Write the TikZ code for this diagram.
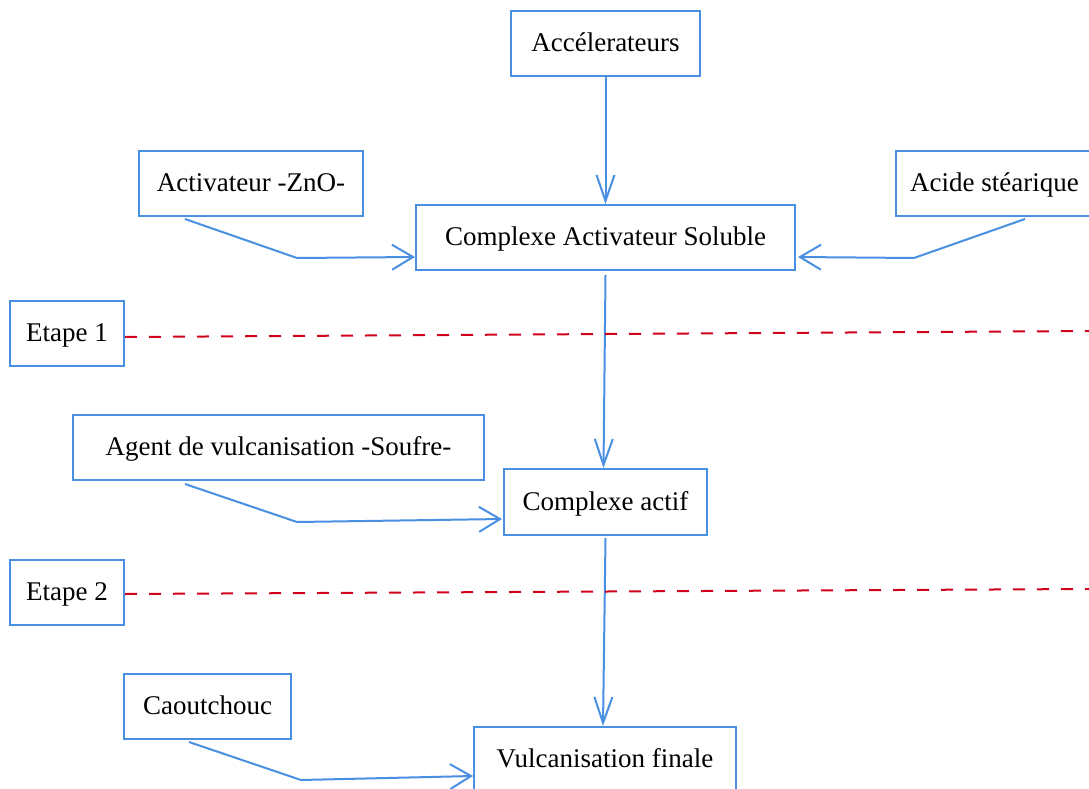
\documentclass[tikz,border=0pt]{standalone}
\usepackage{fontspec}
\setmainfont{Liberation Serif}
\usetikzlibrary{arrows.meta}
\definecolor{boxblue}{RGB}{74,144,226}
\definecolor{dashred}{RGB}{208,2,27}
\tikzset{
  box/.style={draw=boxblue, line width=2pt, fill=white, inner sep=0pt,
    minimum height=65pt, text height=19pt, text depth=3pt,
    font=\fontsize{27}{32}\selectfont, text=black},
  conn/.style={draw=boxblue, line width=2pt},
  varr/.style={conn, -{Straight Barb[length=26pt,width=18pt,line width=2pt]}},
  harr/.style={conn, -{Straight Barb[length=21pt,width=25pt,line width=2pt]}},
  stepline/.style={draw=dashred, line width=2pt, dash pattern=on 12pt off 12pt},
}
\begin{document}
\begin{tikzpicture}[x=1pt,y=-1pt]
\useasboundingbox (0,0) rectangle (1089,789);
\clip (0,0) rectangle (1089,789);
\fill[white] (0,0) rectangle (1089,789);

\node[box, minimum width=189pt] (acc) at (605.5,43.5) {Accélerateurs};
\node[box, minimum width=224pt] (zn) at (251,183.5) {Activateur -ZnO-};
\node[box, minimum width=197pt] (acide) at (994.5,183.5) {Acide stéarique};
\node[box, minimum width=379pt] (cas) at (605.5,237.5) {Complexe Activateur Soluble};
\node[box, minimum width=114pt] (et1) at (67,333.5) {Etape 1};
\node[box, minimum width=411pt] (agent) at (278.5,447.5) {Agent de vulcanisation -Soufre-};
\node[box, minimum width=203pt, minimum height=66pt] (ca) at (605.5,502) {Complexe actif};
\node[box, minimum width=114pt] (et2) at (67,592.5) {Etape 2};
\node[box, minimum width=167pt] (caou) at (207.5,706.5) {Caoutchouc};
\node[box, minimum width=262pt] (vf) at (605,759.5) {Vulcanisation finale};

\coordinate (e1) at (1089,331);
\coordinate (e2) at (1089,589);

% vertical flow
\draw[varr] (acc.south) -- (cas.north);
\draw[varr] ([yshift=-4pt]cas.south) -- ([xshift=-2pt]ca.north);
\draw[varr] ([yshift=-2pt]ca.south) -- ([xshift=-2pt]vf.north);

% side inputs
\draw[harr] ([xshift=47pt,yshift=-2pt]zn.south west) -- ++(112,39) -- ([yshift=-19.5pt]cas.west);
\draw[harr] ([xshift=130pt,yshift=-2pt]acide.south west) -- ++(-111,39) -- ([xshift=2pt,yshift=-19.5pt]cas.east);
\draw[harr] ([xshift=113pt,yshift=-3pt]agent.south west) -- ++(112,38) -- ([xshift=-1pt,yshift=-17pt]ca.west);
\draw[harr] ([xshift=66pt,yshift=-2pt]caou.south west) -- ++(112,38) -- ([yshift=-16.5pt]vf.west);

% step lines
\draw[stepline] ([yshift=-3.5pt]et1.east) -- (e1);
\draw[stepline] ([yshift=-1.5pt]et2.east) -- (e2);
\end{tikzpicture}
\end{document}
